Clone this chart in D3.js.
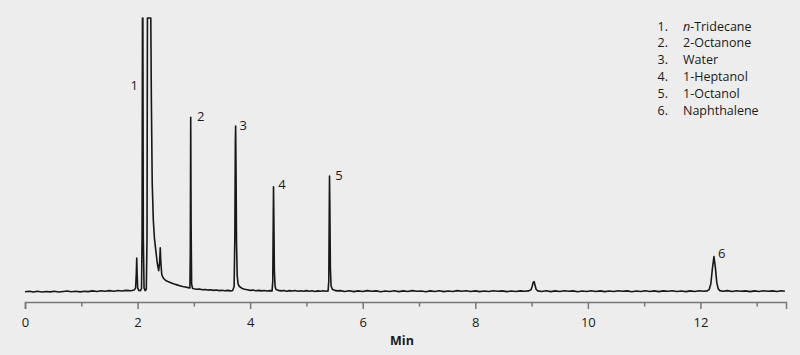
<!DOCTYPE html>
<html>
<head>
<meta charset="utf-8">
<script src="https://cdn.jsdelivr.net/npm/d3@7"></script>
<style>
  body { margin: 0; background: #ededed; }
  svg { display: block; font-family: "Open Sans", sans-serif; }
  .axis path, .axis line { stroke: #777; stroke-width: 1.5px; }
  .axis text { fill: #1a1a1a; font-size: 13px; font-family: "Open Sans", sans-serif; }
  .trace { fill: none; stroke: #181818; stroke-width: 1.6px; stroke-linejoin: round; }
  .lbl { fill: #1a1a1a; font-size: 12.5px; }
</style>
</head>
<body>
<svg id="chart" width="800" height="355"></svg>
<script>
// chromatogram trace, [minutes, signal] (100 = top of plot)
var trace = [
  [0.00,0.1],[0.08,0.3],[0.15,0.0],[0.22,0.25],[0.30,-0.05],[0.38,0.2],[0.45,0.05],[0.52,0.3],
  [0.60,0.0],[0.68,0.2],[0.75,0.35],[0.82,0.1],[0.90,0.3],[0.98,0.05],[1.05,0.3],[1.12,0.15],
  [1.20,0.4],[1.28,0.2],[1.35,0.45],[1.42,0.25],[1.50,0.5],[1.58,0.3],[1.65,0.55],[1.72,0.35],
  [1.80,0.6],[1.88,0.45],[1.94,0.7],
  [1.965,1.5],[1.978,7],[1.985,12.4],[1.992,7],[2.002,1.5],[2.02,0.6],[2.05,0.5],[2.07,1.2],
  [2.08,20],[2.087,110],[2.094,110],[2.102,20],[2.115,1.5],[2.135,0.5],[2.155,1.0],
  [2.168,20],[2.175,110],[2.235,110],[2.245,70],[2.26,40],[2.28,26],[2.30,19.5],[2.325,15],
  [2.35,10.5],[2.375,7.8],[2.392,11],[2.403,16.1],[2.413,11],[2.43,6.3],[2.46,5.0],[2.50,4.2],
  [2.55,3.7],[2.60,3.3],[2.65,2.9],[2.70,2.6],[2.75,2.3],[2.80,2.0],[2.85,1.8],[2.90,1.6],[2.93,1.5],
  [2.937,15],[2.944,63.8],[2.951,25],[2.96,3],[2.975,1.4],[3.00,1.2],[3.05,1.0],[3.10,1.1],
  [3.15,0.8],[3.20,0.9],[3.25,0.7],[3.30,0.8],[3.35,0.6],[3.40,0.75],[3.45,0.5],[3.50,0.65],
  [3.55,0.45],[3.60,0.6],[3.65,0.4],[3.69,0.55],
  [3.715,2],[3.728,20],[3.737,55],[3.742,60.6],[3.749,45],[3.758,18],[3.77,6],[3.785,3],
  [3.81,2],[3.85,1.4],[3.90,1.0],[3.95,0.8],[4.00,0.6],[4.05,0.7],[4.10,0.45],[4.15,0.6],
  [4.20,0.4],[4.25,0.55],[4.30,0.35],[4.35,0.5],[4.39,0.4],
  [4.402,4],[4.41,25],[4.415,38.4],[4.421,28],[4.43,8],[4.443,2],[4.46,0.9],[4.50,0.6],
  [4.55,0.4],[4.60,0.55],[4.65,0.3],[4.70,0.5],[4.75,0.35],[4.80,0.55],[4.85,0.3],[4.90,0.45],
  [4.95,0.25],[5.00,0.5],[5.05,0.3],[5.10,0.45],[5.15,0.2],[5.20,0.4],[5.25,0.25],[5.30,0.45],
  [5.35,0.3],[5.385,0.4],
  [5.397,4],[5.405,28],[5.41,42.3],[5.416,32],[5.425,9],[5.438,2.2],[5.46,1.0],[5.50,0.6],[5.55,0.4],
  [5.60,0.5],[5.68,0.2],[5.76,0.45],[5.84,0.15],[5.92,0.4],[6.00,0.2],[6.08,0.5],[6.16,0.25],
  [6.24,0.4],[6.32,0.1],[6.40,0.35],[6.48,0.2],[6.56,0.45],[6.64,0.15],[6.72,0.4],[6.80,0.2],
  [6.88,0.5],[6.96,0.25],[7.04,0.35],[7.12,0.1],[7.20,0.4],[7.28,0.2],[7.36,0.45],[7.44,0.15],
  [7.52,0.35],[7.60,0.2],[7.68,0.5],[7.76,0.3],[7.84,0.45],[7.92,0.2],[8.00,0.4],[8.08,0.15],
  [8.16,0.35],[8.24,0.2],[8.32,0.45],[8.40,0.25],[8.48,0.4],[8.56,0.15],[8.64,0.35],[8.72,0.2],
  [8.80,0.4],[8.88,0.25],[8.95,0.4],
  [8.99,0.8],[9.01,2.0],[9.03,3.6],[9.045,3.8],[9.06,2.6],[9.08,1.0],[9.11,0.4],
  [9.18,0.2],[9.26,0.45],[9.34,0.15],[9.42,0.4],[9.50,0.2],[9.58,0.45],[9.66,0.25],[9.74,0.4],
  [9.82,0.1],[9.90,0.35],[9.98,0.2],[10.06,0.45],[10.14,0.2],[10.22,0.4],[10.30,0.15],[10.38,0.35],
  [10.46,0.2],[10.54,0.45],[10.62,0.25],[10.70,0.4],[10.78,0.1],[10.86,0.35],[10.94,0.2],[11.02,0.45],
  [11.10,0.2],[11.18,0.4],[11.26,0.15],[11.34,0.4],[11.42,0.25],[11.50,0.45],[11.58,0.2],[11.66,0.35],
  [11.74,0.15],[11.82,0.4],[11.90,0.2],[11.98,0.45],[12.06,0.25],[12.12,0.4],
  [12.155,0.9],[12.185,3],[12.212,8.5],[12.24,12.9],[12.265,9],[12.29,3.5],[12.315,1.2],[12.345,0.5],
  [12.40,0.3],[12.48,0.5],[12.56,0.2],[12.64,0.45],[12.72,0.25],[12.80,0.4],[12.88,0.15],[12.96,0.4],
  [13.04,0.2],[13.12,0.45],[13.20,0.25],[13.28,0.4],[13.36,0.2],[13.44,0.45],[13.50,0.3]
];

// peak number labels (anchor in data units)
var peakNumbers = ["1", "2", "3", "4", "5", "6"];
var peakLabelTimes = [1.942, 3.122, 3.879, 4.566, 5.579, 12.379];
var peakLabelLevels = [75.3, 64.2, 60.7, 39.3, 42.7, 14.1];

// legend
var compoundNames = ["Tridecane", "2-Octanone", "Water", "1-Heptanol", "1-Octanol", "Naphthalene"];
var compoundPrefix = ["n", "", "", "", "", ""];

var xTicks = d3.range(0, 14);
var xDomain = [0, 13.52];
var yDomain = [0, 100];

var margin = {top: 18, right: 14, bottom: 63, left: 25};
var width = 800, height = 355;
var svg = d3.select("#chart");

svg.append("rect").attr("width", width).attr("height", height).attr("fill", "#ededed");

var xScale = d3.scaleLinear().domain(xDomain).range([margin.left, width - margin.right]);
var yScale = d3.scaleLinear().domain(yDomain).range([292, margin.top]).clamp(true);

var axisY = 302;
var xAxis = d3.axisBottom(xScale)
  .tickValues(xTicks)
  .tickSizeOuter(0)
  .tickSize(7)
  .tickFormat(function(d) { return d % 2 === 0 ? d : ""; });

var gx = svg.append("g").attr("class", "x axis")
  .attr("transform", "translate(0," + axisY + ")")
  .call(xAxis);
gx.selectAll(".tick line").attr("y2", function(d) { return d % 2 === 0 ? 7 : 4.5; });
gx.selectAll(".tick text").attr("y", 16);

svg.append("text").attr("class", "lbl")
  .attr("x", 402).attr("y", 345)
  .attr("text-anchor", "middle")
  .style("font-weight", "bold").style("font-size", "12.5px")
  .text("Min");

var line = d3.line()
  .x(function(d) { return xScale(d[0]); })
  .y(function(d) { return yScale(d[1]); });

svg.append("path").datum(trace).attr("class", "trace").attr("d", line);

svg.selectAll(".peak").data(peakNumbers).enter().append("text")
  .attr("class", "lbl peak")
  .attr("x", function(d, i) { return xScale(peakLabelTimes[i]); })
  .attr("y", function(d, i) { return yScale(peakLabelLevels[i]); })
  .attr("dy", "0.36em")
  .attr("text-anchor", "middle")
  .style("font-size", "13px")
  .text(function(d) { return d; });

// legend block, top right
var lg = svg.append("g").attr("transform", "translate(0,26)");
var rows = lg.selectAll("g").data(compoundNames).enter().append("g")
  .attr("transform", function(d, i) { return "translate(0," + (i * 16.8) + ")"; });
rows.append("text").attr("class", "lbl")
  .attr("x", 668).attr("dy", "0.36em").attr("text-anchor", "end")
  .text(function(d, i) { return (i + 1) + "."; });
var nm = rows.append("text").attr("class", "lbl")
  .attr("x", 683).attr("dy", "0.36em");
nm.filter(function(d, i) { return compoundPrefix[i] !== ""; })
  .append("tspan").style("font-style", "italic")
  .text(function(d, i) { return compoundPrefix[compoundNames.indexOf(d)] + "-"; });
nm.append("tspan").text(function(d) { return d; });
</script>
</body>
</html>
